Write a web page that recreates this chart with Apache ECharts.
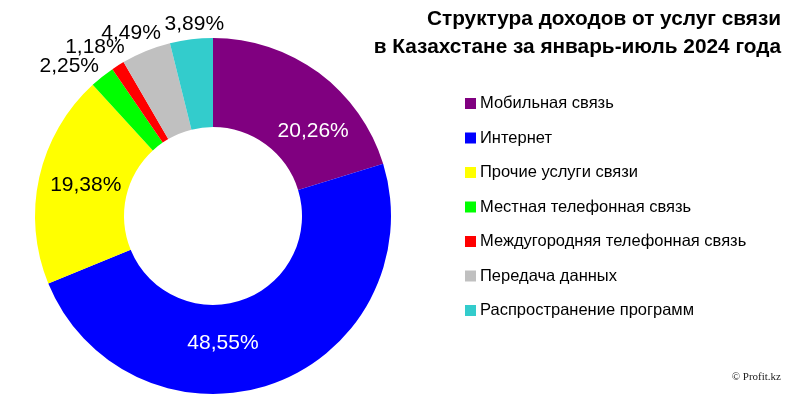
<!DOCTYPE html>
<html><head><meta charset="utf-8">
<script src="https://cdn.jsdelivr.net/npm/echarts@6/dist/echarts.min.js"></script>
<style>html,body{margin:0;padding:0;background:#fff}#c{width:800px;height:400px}</style>
</head><body><div id="c"></div>
<script>
var categories = ['Мобильная связь','Интернет','Прочие услуги связи','Местная телефонная связь','Междугородняя телефонная связь','Передача данных','Распространение программ'];
var shares = [20.26, 48.55, 19.38, 2.25, 1.18, 4.49, 3.89];
var titleLines = ['Структура доходов от услуг связи', 'в Казахстане за январь-июль 2024 года'];

// styling (not data)
var colors = ['#800080','#0000FF','#FFFF00','#00FF00','#FF0000','#C0C0C0','#33CCCC'];
var labelColors = ['#fff','#fff','#000','#000','#000','#000','#000'];
var labelInside = [true,true,true,false,false,false,false];
var labelNudge = [[19,25],[-36,-1],[6,-1],[-33,-10],[-23,-18],[-15,-18],[3,-15]];
var titleTops = [8.5, 37];

var chart = echarts.init(document.getElementById('c'));
chart.setOption({
  animation:false,
  color: colors,
  title: titleLines.map(function(t,i){
    return {
      text: t, right: 19, top: titleTops[i], padding:0,
      textStyle:{fontFamily:'Liberation Sans, Arial, sans-serif', fontWeight:'bold', fontSize:20.8, color:'#000'}
    };
  }),
  legend:{
    orient:'vertical', left:465, top:95, padding:0,
    itemWidth:11, itemHeight:11, itemGap:17.5,
    icon:'rect',
    textStyle:{fontFamily:'Liberation Sans, Arial, sans-serif', fontSize:16.5, lineHeight:16, color:'#000', padding:[0,0,0,-1]},
    data: categories
  },
  graphic:[{
    type:'text', right:19, top:372,
    style:{text:'© Profit.kz', fontFamily:'Liberation Serif, DejaVu Serif, serif', fontSize:11, fill:'#222'}
  }],
  series:[{
    type:'pie',
    center:[213,216],
    radius:[89,178],
    startAngle:90,
    clockwise:true,
    avoidLabelOverlap:false,
    label:{fontFamily:'Liberation Sans, Arial, sans-serif', fontSize:21, distanceToLabelLine:0},
    labelLine:{show:false, length:0, length2:0},
    labelLayout:function(p){
      var n = labelNudge[p.dataIndex];
      return {align:'center', verticalAlign:'middle', dx:n[0], dy:n[1]};
    },
    emphasis:{disabled:true},
    data: categories.map(function(c,i){
      return {
        name:c, value:shares[i],
        label:{
          position: labelInside[i] ? 'inside' : 'outside',
          color: labelColors[i],
          formatter: shares[i].toFixed(2).replace('.', ',') + '%'
        }
      };
    })
  }]
});
</script></body></html>
